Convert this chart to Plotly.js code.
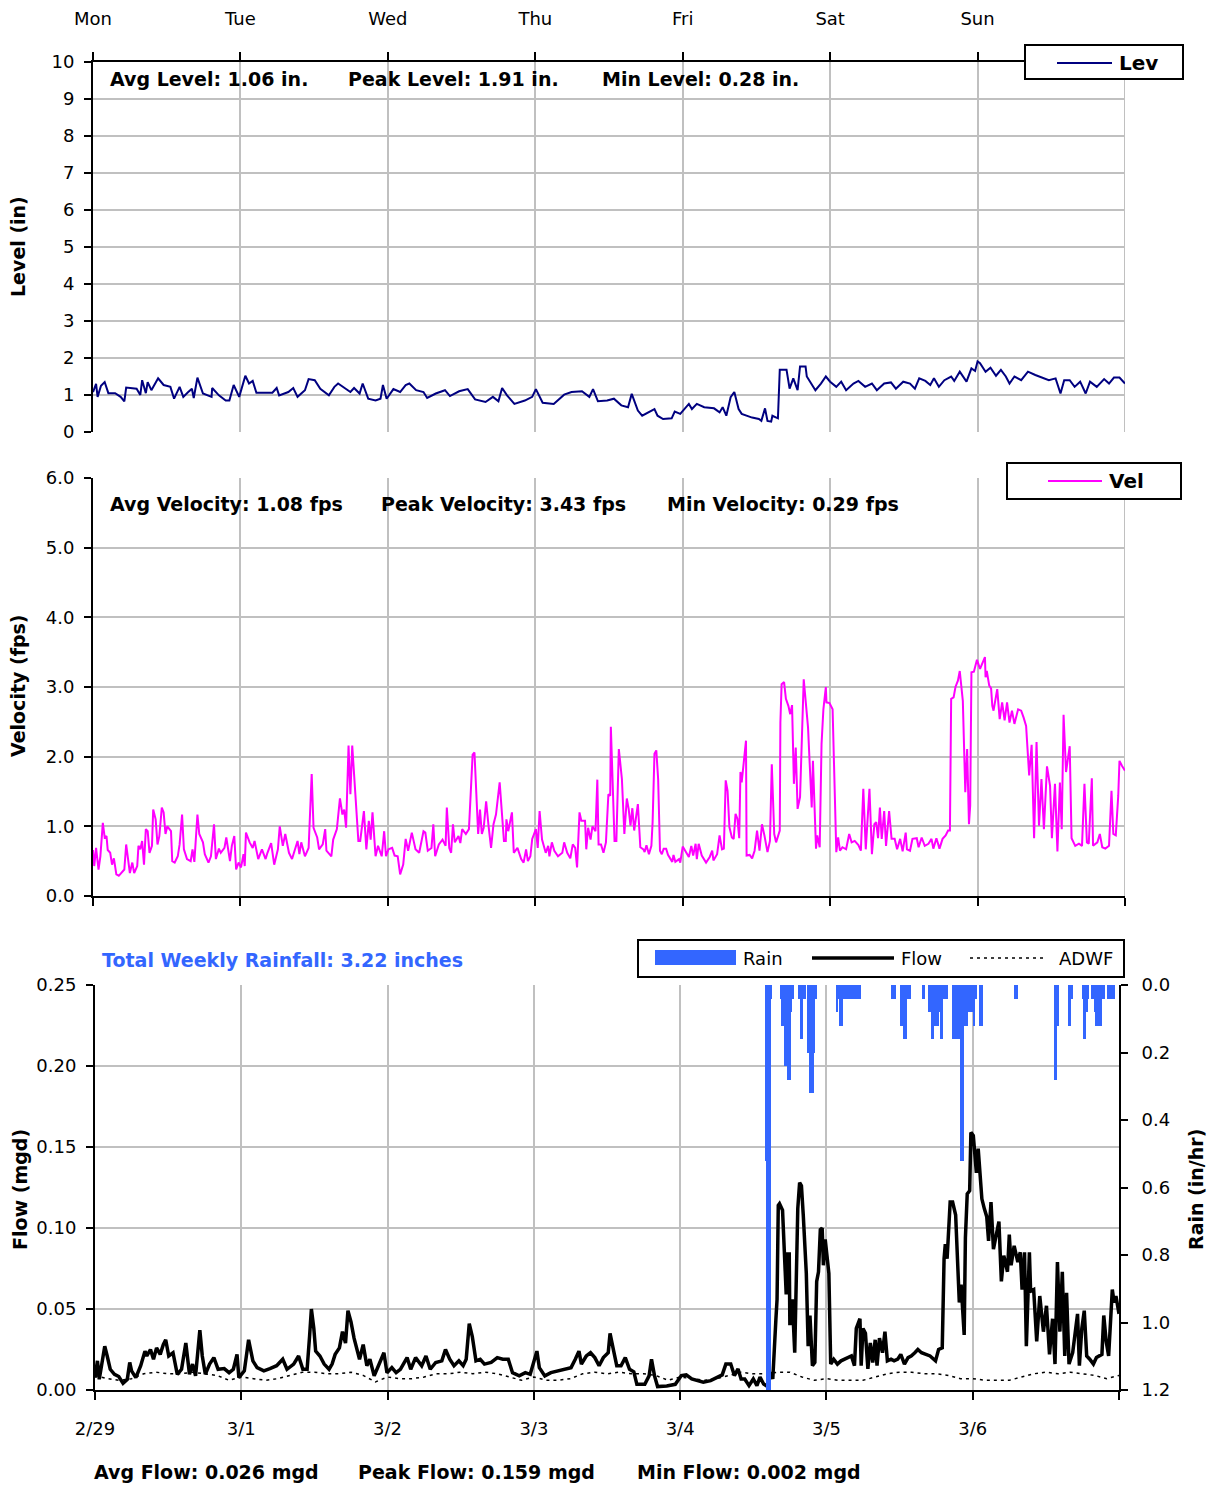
<!DOCTYPE html>
<html>
<head>
<meta charset="utf-8">
<script src="https://cdn.plot.ly/plotly-3.0.1.min.js"></script>
<style>html,body{margin:0;padding:0;background:#fff;}</style>
</head>
<body>
<div id="chart" style="width:1213px;height:1488px;"></div>
<script>
// ---------------- DATA ----------------
// hours from Monday 2/29 00:00
const dayTickHours = [0, 24, 48, 72, 96, 120, 144, 168];
const dayNames = ['Mon', 'Tue', 'Wed', 'Thu', 'Fri', 'Sat', 'Sun', ''];
const dateLabels = ['2/29', '3/1', '3/2', '3/3', '3/4', '3/5', '3/6', ''];

const levelHours = [0,0.5,0.75,1.3,1.9,2.5,3.6,4.5,5.1,5.4,7.1,7.7,8.0,8.6,8.9,9.5,10.6,11.5,12.6,13.2,14.1,14.7,15.5,16.1,16.4,17.0,17.9,19.3,19.4,20.5,21.6,22.2,22.9,23.8,
24.8,25.4,26.0,26.6,29.2,29.9,30.3,31.8,32.6,33.3,34.5,35.1,36.1,37.0,38.4,39.3,39.9,41.0,41.9,42.5,43.4,43.9,44.8,46.0,46.8,47.2,47.8,
48.9,50.0,50.9,51.5,52.6,53.8,54.4,55.8,57.3,58.1,59.6,61.0,62.2,63.9,65.1,66.0,66.6,67.4,68.6,70.3,71.5,
72.1,73.2,75.0,76.7,77.9,79.6,80.8,81.4,82.2,83.7,84.8,86.0,87.1,87.7,88.7,89.4,90.5,91.4,91.9,92.8,94.2,94.7,95.6,
96.1,97.0,97.5,98.3,99.5,101.1,102.0,102.5,103.1,103.8,104.4,105.1,105.6,106.4,107.3,108.4,108.8,109.4,109.8,110.4,110.6,111.5,111.8,112.9,113.4,114.0,114.7,115.1,116.0,116.2,117.1,117.6,118.5,119.3,
120.0,121.0,121.8,122.6,123.8,124.6,125.7,126.8,127.6,128.8,129.9,130.7,131.9,133.0,133.8,134.5,135.5,136.3,136.9,137.7,138.6,139.7,140.2,141.1,142.2,143.0,143.6,
144.0,144.4,145.3,146.1,147.0,147.8,148.6,149.2,150.0,151.1,152.2,153.4,154.5,155.6,156.7,157.5,158.1,159.0,159.8,160.7,161.6,162.3,163.4,164.6,165.4,166.2,167.1,168.0];
const levelIn = [1.08,1.3,0.95,1.25,1.35,1.05,1.05,0.95,0.83,1.2,1.17,1.0,1.4,1.05,1.35,1.13,1.45,1.27,1.22,0.9,1.22,0.95,1.08,1.17,0.92,1.47,1.04,0.95,1.19,0.99,0.85,0.85,1.27,0.95,
1.52,1.31,1.38,1.06,1.06,1.19,0.99,1.08,1.19,0.95,1.13,1.43,1.4,1.17,0.99,1.22,1.31,1.17,1.08,1.19,1.04,1.31,0.9,0.85,0.9,1.27,0.9,
1.16,1.08,1.27,1.31,1.13,1.08,0.92,1.04,1.13,0.97,1.1,1.16,0.88,0.81,0.95,0.83,1.19,0.99,0.76,0.85,0.95,
1.16,0.79,0.76,1.01,1.08,1.1,0.95,1.16,0.83,0.85,0.9,0.72,0.67,1.03,0.58,0.44,0.55,0.62,0.44,0.35,0.37,0.55,0.49,
0.58,0.76,0.62,0.76,0.67,0.64,0.53,0.67,0.44,0.94,1.08,0.62,0.49,0.44,0.39,0.35,0.3,0.64,0.3,0.28,0.44,0.37,1.68,1.68,1.17,1.45,1.13,1.77,1.77,1.5,1.27,1.13,1.31,1.5,
1.36,1.22,1.36,1.13,1.31,1.38,1.22,1.31,1.13,1.31,1.34,1.17,1.36,1.31,1.17,1.45,1.38,1.27,1.45,1.22,1.4,1.5,1.38,1.63,1.36,1.72,1.65,
1.91,1.86,1.63,1.74,1.52,1.68,1.5,1.31,1.5,1.4,1.63,1.54,1.47,1.4,1.45,1.04,1.4,1.4,1.22,1.36,1.04,1.36,1.22,1.43,1.31,1.47,1.47,1.31];

const velHours = [0,0.2,0.5,0.9,1.2,1.6,1.9,2.2,2.4,2.8,3.1,3.4,3.8,4.2,5.1,5.4,6.0,6.4,6.7,7.2,7.4,7.7,8.0,8.3,8.6,8.9,9.2,9.6,9.8,10.2,10.5,10.8,11.2,11.5,11.8,12.1,12.7,12.9,13.3,13.8,14.1,14.5,14.8,15.3,15.9,16.2,16.5,17.0,17.3,17.9,18.2,18.8,19.2,19.5,19.7,20.0,20.5,20.8,21.4,21.7,22.3,22.6,23.0,23.3,23.7,
24.1,24.5,24.7,24.9,25.5,26.0,26.3,26.9,27.5,28.1,28.4,29.0,29.5,30.1,30.4,30.9,31.3,31.9,32.4,33.3,33.6,33.9,34.5,35.1,35.6,35.9,36.5,36.8,37.4,37.8,38.0,38.8,39.1,39.7,40.2,40.6,40.9,41.2,41.6,41.9,42.2,42.6,43.2,43.5,44.1,44.5,44.9,45.2,45.5,46.0,46.4,47.0,47.4,47.7,
48.1,48.7,49.1,49.6,50.0,50.5,50.9,51.3,51.9,52.5,53.1,53.8,54.1,54.5,55.1,55.4,55.7,56.3,56.9,57.4,57.6,58.0,58.3,58.6,58.9,59.5,59.8,60.1,60.7,61.2,61.8,62.1,62.4,62.7,63.0,63.3,63.6,64.0,64.4,64.8,65.2,65.6,66.2,66.5,66.9,67.2,67.3,67.6,68.2,68.5,69.1,69.7,70.1,70.5,70.8,71.2,71.5,
72.1,72.4,72.7,73.1,73.7,74.1,74.3,74.7,75.1,75.7,76.4,76.7,77.2,77.7,78.1,78.5,78.8,79.2,79.5,80.1,80.3,80.6,81.0,81.3,81.8,82.1,82.3,82.7,83.1,83.5,83.9,84.2,84.3,84.9,85.2,85.6,86.1,86.5,86.9,87.2,87.5,87.8,88.1,88.7,89.1,89.6,89.8,90.1,90.5,90.9,91.1,91.4,91.7,92.0,92.3,92.6,92.9,93.3,93.6,94.0,94.3,94.5,94.8,95.4,95.6,
96.0,96.4,97.0,97.4,97.7,98.1,98.3,98.6,99.1,99.8,100.4,100.8,101.0,101.6,102.0,102.4,102.7,103.0,103.3,103.6,104.0,104.3,104.6,104.9,105.2,105.4,105.6,106.3,106.4,106.9,107.3,107.7,108.1,108.5,108.9,109.3,109.8,110.2,110.5,110.9,111.2,111.8,111.9,112.1,112.5,112.8,113.2,113.5,113.8,114.1,114.4,114.7,115.1,115.7,116.0,116.4,117.0,117.2,117.7,117.9,118.3,118.6,118.9,119.3,119.4,119.9,
120.4,121.0,121.3,121.6,122.0,122.6,123.1,123.5,124.0,124.6,125.0,125.4,125.8,126.4,126.8,127.2,127.5,127.8,128.1,128.4,128.8,129.1,129.6,130.0,130.5,130.9,131.4,131.8,132.3,132.5,133.0,133.4,134.1,134.4,134.9,135.4,136.0,136.5,136.8,137.3,137.8,138.3,138.8,139.2,139.5,139.7,140.1,140.4,140.8,141.1,141.6,142.0,142.3,142.6,142.8,143.0,143.4,143.9,
144.4,144.8,145.2,145.3,145.5,145.9,146.2,146.4,146.6,147.2,147.6,148.0,148.4,148.8,149.2,149.6,150.0,150.6,151.1,151.5,151.9,152.4,152.8,153.2,153.6,154.0,154.4,154.8,155.3,155.8,156.1,156.6,157.0,157.4,157.7,158.0,158.4,159.0,159.3,159.9,160.5,161.0,161.4,161.8,162.1,162.6,162.8,163.5,163.9,164.3,164.8,165.4,165.8,166.1,166.5,166.9,167.1,167.5,168.0];
const velFps = [0.66,0.43,0.69,0.38,0.57,1.05,0.84,0.86,0.66,0.62,0.45,0.54,0.31,0.29,0.38,0.74,0.33,0.48,0.33,0.43,0.72,0.67,0.79,0.45,0.96,0.93,0.62,0.72,1.24,1.1,0.74,0.86,1.27,1.2,0.89,1.0,0.93,0.5,0.48,0.57,0.74,1.17,0.67,0.53,0.5,0.67,0.49,1.17,0.89,0.77,0.6,0.48,0.57,0.84,1.03,0.53,0.68,0.62,0.69,0.84,0.5,0.72,0.86,0.38,0.48,
0.41,0.6,0.43,0.91,0.77,0.69,0.79,0.53,0.67,0.53,0.62,0.76,0.45,0.67,1.0,0.72,0.89,0.62,0.53,0.79,0.6,0.77,0.57,0.69,1.75,0.98,0.84,0.67,0.74,0.96,0.65,0.57,0.81,0.96,1.4,1.17,1.24,0.98,2.16,1.46,2.16,1.58,0.79,0.79,1.22,0.67,1.08,0.81,1.2,0.57,0.72,0.57,0.93,0.57,
0.67,0.69,0.58,0.57,0.31,0.45,0.82,0.65,0.91,0.67,0.62,0.93,0.91,0.65,0.69,1.03,0.57,0.74,0.81,0.72,1.27,0.69,0.62,1.03,0.77,0.86,0.76,0.96,0.89,0.96,2.03,2.06,1.48,0.89,1.24,0.89,0.98,1.36,1.0,0.69,1.03,1.17,1.63,1.2,0.79,0.79,1.1,0.93,1.2,0.62,0.69,0.53,0.48,0.67,0.5,0.57,0.82,
0.96,0.69,1.22,0.81,0.62,0.72,0.57,0.77,0.65,0.57,0.62,0.77,0.62,0.54,0.74,0.69,0.41,1.2,1.08,1.08,0.67,0.98,0.81,1.0,0.93,1.67,0.74,0.74,0.62,0.77,1.46,1.44,2.43,0.79,0.79,2.11,1.68,0.89,1.4,1.25,1.01,1.26,0.94,1.32,0.7,0.67,0.63,0.73,0.6,0.72,1.06,2.04,2.09,1.68,0.65,0.6,0.68,0.68,0.59,0.53,0.49,0.59,0.49,0.53,0.48,
0.71,0.65,0.56,0.72,0.58,0.75,0.53,0.75,0.58,0.48,0.56,0.65,0.51,0.6,0.87,0.67,0.68,1.66,1.51,0.99,0.84,0.82,1.18,1.11,0.83,1.78,1.63,2.23,0.58,0.59,0.54,0.65,0.94,0.65,1.03,0.87,0.63,0.79,1.89,0.89,0.77,0.94,2.49,3.04,3.07,2.83,2.73,2.61,2.74,1.61,2.13,1.25,1.42,3.11,2.8,2.42,1.27,1.94,0.68,0.87,0.7,2.18,2.68,3.0,2.78,2.77,
2.68,0.63,0.84,0.65,0.7,0.67,0.89,0.77,0.79,0.73,0.65,1.54,0.67,1.54,0.6,1.03,1.06,0.83,1.27,0.82,1.22,0.72,1.22,0.82,0.82,0.67,0.82,0.64,0.91,0.67,0.65,0.82,0.83,0.7,0.84,0.72,0.75,0.82,0.68,0.83,0.68,0.82,0.87,0.94,0.94,2.83,2.85,3.0,3.09,3.23,2.8,1.49,2.11,1.03,1.3,3.21,3.22,3.39,
3.26,3.35,3.43,3.14,3.23,3.02,2.98,2.73,2.66,2.97,2.54,2.78,2.52,2.78,2.49,2.66,2.47,2.68,2.66,2.56,2.44,1.73,2.17,0.83,2.21,1.01,1.68,0.96,1.86,1.58,0.83,1.61,0.64,1.63,0.96,2.6,1.78,2.15,0.83,0.72,0.75,0.72,1.61,0.77,0.75,1.69,0.72,0.77,0.89,0.7,0.68,0.72,1.51,0.89,0.87,1.44,1.94,1.87,1.8];

const flowHours = [0,0.4,0.7,1.6,2.0,2.5,3.2,3.9,4.6,5.3,5.7,6.0,6.7,7.5,8.2,8.5,9.1,9.6,10.1,10.7,11.2,11.6,12.1,12.8,13.5,14.2,14.9,15.5,16.0,16.5,17.2,17.6,18.1,18.8,19.5,20.2,21.2,22.0,22.7,23.3,23.6,
24.5,25.2,25.9,26.6,27.7,28.7,29.8,30.8,31.5,32.6,33.4,34.1,34.8,35.2,35.5,35.9,36.2,36.9,37.6,38.4,38.9,39.4,40.1,40.6,41.1,41.5,42.0,42.5,42.9,43.4,44.0,44.6,45.1,45.8,46.5,47.4,47.9,
48.7,49.4,50.1,51.2,51.8,52.6,53.6,54.3,55.0,55.9,56.9,57.5,58.2,58.9,59.7,60.4,60.9,61.4,61.9,62.5,63.2,63.9,65.0,66.0,66.9,67.8,68.5,69.6,70.6,71.4,
72.0,72.5,72.9,73.8,74.8,75.9,77.0,78.1,78.8,79.4,79.8,80.6,81.3,82.0,82.7,83.4,84.2,84.5,85.1,85.6,86.3,87.0,87.7,88.4,88.9,90.2,90.9,91.3,91.8,92.3,93.8,95.2,
96.2,97.0,97.9,99.0,99.8,101.0,102.1,102.9,103.5,104.3,104.9,105.5,106.0,106.6,107.3,108.0,108.6,109.1,109.7,110.1,110.4,110.8,111.2,111.7,111.9,112.1,112.3,112.8,113.1,113.4,113.6,113.9,114.0,114.4,114.8,115.0,115.3,115.6,115.9,116.2,116.5,116.7,117.0,117.3,117.7,118.1,118.4,118.7,119.0,119.3,119.5,119.8,
120.4,120.7,121.2,121.8,122.4,123.2,124.1,124.6,124.9,125.5,125.7,126.0,126.4,126.8,127.2,127.6,128.0,128.3,128.7,129.2,129.6,130.0,130.6,131.1,131.7,132.2,132.8,133.4,133.9,134.5,135.0,135.6,136.2,137.0,137.9,138.4,139.0,139.3,139.5,139.8,140.3,140.7,141.2,141.5,141.8,142.1,142.4,142.6,142.8,143.1,143.5,143.7,
144.1,144.3,144.6,144.9,145.2,145.5,145.9,146.3,146.6,147.0,147.4,148.3,148.7,149.1,149.7,150.0,150.3,150.8,151.4,151.8,152.1,152.5,152.8,153.3,153.5,154.0,154.5,155.0,155.6,156.1,156.6,157.1,157.5,157.9,158.3,158.7,159.1,159.4,159.8,160.4,160.9,161.2,161.5,161.9,162.3,162.7,163.2,163.8,164.3,165.2,165.5,165.9,166.3,166.6,166.9,167.2,167.5,168.0];
const flowMgd = [0.0076,0.018,0.0066,0.027,0.021,0.0128,0.0097,0.0083,0.0041,0.0066,0.017,0.0118,0.0076,0.015,0.024,0.021,0.025,0.019,0.026,0.022,0.028,0.031,0.021,0.023,0.0097,0.0128,0.029,0.0097,0.016,0.0087,0.037,0.021,0.0097,0.016,0.02,0.0128,0.0132,0.0107,0.0128,0.022,0.0076,
0.0118,0.031,0.018,0.0138,0.0118,0.0132,0.015,0.019,0.0128,0.016,0.021,0.0128,0.0128,0.033,0.05,0.038,0.024,0.021,0.016,0.0128,0.016,0.022,0.026,0.036,0.029,0.049,0.042,0.032,0.027,0.019,0.028,0.015,0.019,0.0087,0.015,0.023,0.0107,
0.0138,0.0107,0.0128,0.02,0.0128,0.02,0.015,0.021,0.0128,0.017,0.018,0.025,0.019,0.015,0.018,0.015,0.019,0.041,0.033,0.018,0.019,0.016,0.017,0.02,0.019,0.019,0.0107,0.0087,0.0107,0.0097,
0.017,0.024,0.0138,0.0087,0.0107,0.0118,0.0128,0.0138,0.019,0.024,0.016,0.021,0.023,0.02,0.015,0.02,0.023,0.035,0.024,0.015,0.015,0.02,0.0128,0.0112,0.0035,0.0035,0.0087,0.019,0.0087,0.0021,0.0025,0.0035,
0.0089,0.0093,0.0068,0.0058,0.0048,0.0058,0.0079,0.0093,0.016,0.016,0.0089,0.013,0.0068,0.0068,0.0027,0.0068,0.0027,0.0079,0.0037,0.0027,0.002,0.011,0.0068,0.043,0.056,0.114,0.115,0.111,0.081,0.059,0.084,0.084,0.04,0.056,0.023,0.063,0.112,0.128,0.126,0.108,0.078,0.072,0.027,0.046,0.015,0.017,0.067,0.073,0.099,0.1,0.077,0.093,
0.072,0.016,0.019,0.016,0.018,0.0196,0.021,0.015,0.038,0.044,0.015,0.038,0.035,0.013,0.029,0.017,0.031,0.015,0.032,0.023,0.036,0.018,0.019,0.018,0.019,0.022,0.016,0.02,0.021,0.023,0.025,0.023,0.022,0.021,0.018,0.025,0.026,0.081,0.09,0.081,0.116,0.116,0.108,0.073,0.054,0.065,0.044,0.034,0.094,0.121,0.123,0.159,
0.157,0.149,0.134,0.149,0.131,0.118,0.112,0.107,0.092,0.116,0.087,0.104,0.067,0.083,0.073,0.096,0.077,0.089,0.079,0.085,0.062,0.085,0.027,0.085,0.061,0.062,0.03,0.058,0.036,0.052,0.022,0.044,0.016,0.079,0.036,0.073,0.021,0.06,0.016,0.023,0.038,0.047,0.015,0.038,0.049,0.021,0.019,0.016,0.02,0.022,0.046,0.03,0.021,0.04,0.062,0.054,0.058,0.047];

const adwfHours = [0,2,4,6,8,10,12,14,16,18,20,22, 24,26,28,30,32,34,36,38,40,42,44,46, 48,50,52,54,56,58,60,62,64,66,68,70,
72,74,76,78,80,82,84,86,88,90,92,94, 96,98,100,102,104,106,108,110,112,114,116,118, 120,122,124,126,128,130,132,134,136,138,140,142,
144,146,148,150,152,154,156,158,160,162,164,166,168];
const adwfMgd = [0.009,0.007,0.006,0.007,0.010,0.011,0.010,0.010,0.011,0.010,0.009,0.006,
0.008,0.007,0.006,0.007,0.009,0.011,0.011,0.010,0.010,0.011,0.009,0.005,
0.008,0.007,0.007,0.008,0.010,0.010,0.011,0.010,0.011,0.010,0.008,0.006,
0.008,0.006,0.006,0.007,0.010,0.011,0.010,0.011,0.010,0.010,0.009,0.006,
0.008,0.007,0.006,0.007,0.009,0.011,0.010,0.010,0.011,0.011,0.008,0.006,
0.007,0.006,0.006,0.006,0.008,0.010,0.011,0.011,0.010,0.010,0.009,0.007,
0.007,0.006,0.006,0.006,0.008,0.010,0.011,0.010,0.011,0.010,0.009,0.007,0.009];

const rainHours = [110.0,110.25,110.5,110.75,111.0,
112.5,112.75,113.0,113.25,113.5,113.75,114.0,114.25,114.5,
115.5,115.75,116.0,116.25,116.5,
117.0,117.25,117.5,117.75,118.0,118.25,
121.75,122.0,122.25,122.5,122.75,123.0,123.25,123.5,123.75,124.0,124.25,124.5,124.75,125.0,125.25,125.5,
130.75,131.0,131.25,
132.25,132.5,132.75,133.0,133.25,133.5,133.75,
135.75,136.0,
136.75,137.0,137.25,137.5,137.75,138.0,138.25,138.5,138.75,139.0,139.25,139.5,139.75,
140.75,141.0,141.25,141.5,141.75,142.0,142.25,142.5,142.75,143.0,143.25,143.5,143.75,144.0,144.25,144.5,
145.25,145.5,
151.0,151.25,
157.5,157.75,158.0,
159.75,160.0,160.25,
162.0,162.25,162.5,162.75,163.0,
163.5,163.75,164.0,164.25,164.5,164.75,165.0,165.25,165.5,
166.25,166.5,166.75,167.0,167.25];
const rainInHr = [0.52,1.2,1.2,1.2,0.04,
0.04,0.12,0.12,0.24,0.24,0.28,0.28,0.08,0.04,
0.04,0.16,0.16,0.04,0.04,
0.2,0.32,0.32,0.32,0.2,0.04,
0.08,0.04,0.12,0.12,0.04,0.04,0.04,0.04,0.04,0.04,0.04,0.04,0.04,0.04,0.04,0.04,
0.04,0.04,0.04,
0.12,0.12,0.16,0.16,0.04,0.04,0.04,
0.04,0.04,
0.08,0.08,0.16,0.16,0.12,0.12,0.12,0.08,0.16,0.16,0.04,0.04,0.04,
0.16,0.16,0.16,0.16,0.16,0.52,0.52,0.52,0.12,0.12,0.08,0.08,0.08,0.08,0.12,0.04,
0.12,0.12,
0.04,0.04,
0.28,0.28,0.12,
0.12,0.12,0.04,
0.04,0.16,0.16,0.08,0.04,
0.04,0.04,0.08,0.12,0.12,0.12,0.12,0.04,0.04,
0.04,0.04,0.04,0.04,0.04];

const levelStats = ['Avg Level: 1.06 in.', 'Peak Level: 1.91 in.', 'Min Level: 0.28 in.'];
const velStats = ['Avg Velocity: 1.08 fps', 'Peak Velocity: 3.43 fps', 'Min Velocity: 0.29 fps'];
const flowStats = ['Avg Flow: 0.026 mgd', 'Peak Flow: 0.159 mgd', 'Min Flow: 0.002 mgd'];
const rainTotalText = 'Total Weekly Rainfall: 3.22 inches';

// ---------------- LAYOUT HELPERS ----------------
const W = 1213, H = 1488;
const fx = p => p / W;
const fy = p => 1 - p / H;
const FONT = 'DejaVu Sans, Verdana, sans-serif';
const GRID = '#c0c0c0';
const RAIN = '#3366FF';

const traces = [
  {x: levelHours, y: levelIn, type: 'scatter', mode: 'lines', name: 'Lev', xaxis: 'x', yaxis: 'y',
   line: {color: '#000080', width: 2}},
  {x: velHours, y: velFps, type: 'scatter', mode: 'lines', name: 'Vel', xaxis: 'x2', yaxis: 'y2',
   line: {color: '#FF00FF', width: 2}},
  {x: adwfHours, y: adwfMgd, type: 'scatter', mode: 'lines', name: 'ADWF', xaxis: 'x3', yaxis: 'y3',
   line: {color: 'black', width: 1.5, dash: '3px,4px'}},
  {x: flowHours, y: flowMgd, type: 'scatter', mode: 'lines', name: 'Flow', xaxis: 'x3', yaxis: 'y3',
   line: {color: 'black', width: 3.5}},
  {x: rainHours, y: rainInHr, type: 'bar', name: 'Rain', xaxis: 'x3', yaxis: 'y4', width: 0.3,
   marker: {color: RAIN, line: {width: 0}}}
];

const tickFont = {family: FONT, size: 18, color: 'black'};
const yBase = {
  showgrid: true, gridcolor: GRID, gridwidth: 2, zeroline: false,
  showline: true, linecolor: 'black', linewidth: 2,
  ticks: 'outside', ticklen: 7, tickwidth: 2, tickcolor: 'black',
  tickfont: tickFont, ticklabelstandoff: 6, fixedrange: true
};
const xBase = {
  range: [0, 168], tickvals: dayTickHours, showgrid: true, gridcolor: GRID, gridwidth: 2, zeroline: false,
  showline: true, linecolor: 'black', linewidth: 2,
  ticks: 'outside', ticklen: 8, tickwidth: 2, tickcolor: 'black', tickfont: tickFont, fixedrange: true
};

function statAnn(text, x, y, color, bold, size) {
  return {text: bold ? '<b>' + text + '</b>' : text, x: fx(x), y: fy(y), xref: 'paper', yref: 'paper',
          xanchor: 'left', yanchor: 'middle', showarrow: false,
          font: {family: FONT, size: size || 19, color: color || 'black'}};
}
function vTitle(text, x, y) {
  return {text: '<b>' + text + '</b>', x: fx(x), y: fy(y), xref: 'paper', yref: 'paper',
          xanchor: 'center', yanchor: 'middle', textangle: -90, showarrow: false,
          font: {family: FONT, size: 19, color: 'black'}};
}
function rectPx(x0, y0, x1, y1, opts) {
  return Object.assign({type: 'rect', xref: 'paper', yref: 'paper', x0: fx(x0), x1: fx(x1), y0: fy(y1), y1: fy(y0),
          line: {color: 'black', width: 2}, fillcolor: 'white', layer: 'above'}, opts || {});
}
function linePx(x0, x1, y, color, width, dash) {
  return {type: 'line', xref: 'paper', yref: 'paper', x0: fx(x0), x1: fx(x1), y0: fy(y), y1: fy(y),
          line: {color: color, width: width, dash: dash || 'solid'}, layer: 'above'};
}
function edgeLine(xr, yr) {
  return {type: 'line', xref: xr, yref: yr + ' domain', x0: 168, x1: 168, y0: 0, y1: 1,
          line: {color: GRID, width: 2}, layer: 'below'};
}

const layout = {
  width: W, height: H, margin: {l: 0, r: 0, t: 0, b: 0},
  paper_bgcolor: 'white', plot_bgcolor: 'white', showlegend: false,
  font: {family: FONT, size: 18, color: 'black'},
  bargap: 0,
  xaxis: Object.assign({}, xBase, {domain: [fx(93), fx(1125)], anchor: 'y', side: 'top',
          ticktext: dayNames, ticklabelstandoff: 20}),
  yaxis: Object.assign({}, yBase, {domain: [fy(432), fy(62)], anchor: 'x', range: [0, 10], dtick: 1, tick0: 0}),
  xaxis2: Object.assign({}, xBase, {domain: [fx(93), fx(1125)], anchor: 'y2', side: 'bottom',
          ticktext: dayNames, showticklabels: false}),
  yaxis2: Object.assign({}, yBase, {domain: [fy(896), fy(478)], anchor: 'x2', range: [0, 6], dtick: 1, tick0: 0, tickformat: '.1f'}),
  xaxis3: Object.assign({}, xBase, {domain: [fx(95), fx(1119)], anchor: 'y3', side: 'bottom',
          ticktext: dateLabels, ticklabelstandoff: 13}),
  yaxis3: Object.assign({}, yBase, {domain: [fy(1390), fy(985)], anchor: 'x3', range: [0, 0.25], dtick: 0.05, tick0: 0, tickformat: '.2f'}),
  yaxis4: Object.assign({}, yBase, {anchor: 'x3', overlaying: 'y3', side: 'right', range: [1.2, 0], dtick: 0.2, tick0: 0,
          tickformat: '.1f', showgrid: false, ticklabelstandoff: 10}),
  annotations: [
    statAnn(levelStats[0], 108, 79, 'black', true),
    statAnn(levelStats[1], 346, 79, 'black', true),
    statAnn(levelStats[2], 600, 79, 'black', true),
    statAnn(velStats[0], 108, 504, 'black', true),
    statAnn(velStats[1], 379, 504, 'black', true),
    statAnn(velStats[2], 665, 504, 'black', true),
    statAnn(rainTotalText, 100, 960, RAIN, true),
    statAnn(flowStats[0], 92, 1472, 'black', true),
    statAnn(flowStats[1], 356, 1472, 'black', true),
    statAnn(flowStats[2], 635, 1472, 'black', true),
    vTitle('Level (in)', 18, 247),
    vTitle('Velocity (fps)', 18, 686),
    vTitle('Flow (mgd)', 20, 1190),
    vTitle('Rain (in/hr)', 1196, 1190),
    // legend texts
    statAnn('Lev', 1117, 63, 'black', true, 20),
    statAnn('Vel', 1107, 481, 'black', true, 20),
    statAnn('Rain', 741, 958, 'black', false, 18),
    statAnn('Flow', 899, 958, 'black', false, 18),
    statAnn('ADWF', 1057, 958, 'black', false, 18)
  ],
  shapes: [
    edgeLine('x', 'y'),
    edgeLine('x2', 'y2'),
    rectPx(1025, 45, 1183, 79),
    linePx(1057, 1112, 63, '#000080', 2),
    rectPx(1007, 463, 1181, 499),
    linePx(1048, 1102, 481, '#FF00FF', 2),
    rectPx(638, 940, 1124, 977),
    rectPx(655, 950, 736, 965, {fillcolor: RAIN, line: {width: 0}}),
    linePx(812, 894, 958, 'black', 3.5),
    linePx(970, 1046, 958, 'black', 1.5, '3px,4px')
  ]
};

Plotly.newPlot('chart', traces, layout, {staticPlot: true, displayModeBar: false});
</script>
</body>
</html>
